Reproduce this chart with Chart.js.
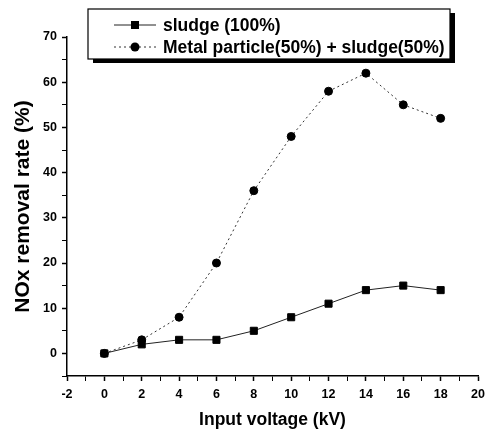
<!DOCTYPE html>
<html lang="en">
<head>
    <meta charset="UTF-8">
    <title>NOx removal rate</title>
    <script src="https://cdn.jsdelivr.net/npm/chart.js"></script>
    <style>
        html, body { margin: 0; padding: 0; background: #fff; }
        #wrap { width: 497px; height: 433px; position: relative; }
    </style>
</head>
<body>
<div id="wrap"><canvas id="chart" width="497" height="433"></canvas></div>

<script>
    const voltage = [0, 2, 4, 6, 8, 10, 12, 14, 16, 18];
    const sludge = [0, 2, 3, 3, 5, 8, 11, 14, 15, 14];
    const metalSludge = [0, 3, 8, 20, 36, 48, 58, 62, 55, 52];
    const seriesNames = ['sludge (100%)', 'Metal particle(50%) + sludge(50%)'];

    const FONT = '"Liberation Sans", Arial, sans-serif';

    const toPoints = (ys) => voltage.map((x, i) => ({ x: x, y: ys[i] }));

    // legend box drawn over the plot like the original figure
    const boxLegend = {
        id: 'boxLegend',
        afterDraw(chart) {
            const ctx = chart.ctx;
            const x0 = 88, y0 = 9, w = 362, h = 50;
            ctx.save();
            ctx.fillStyle = '#000';
            ctx.fillRect(x0 + 5, y0 + 4, w, h);
            ctx.fillStyle = '#fff';
            ctx.fillRect(x0, y0, w, h);
            ctx.strokeStyle = '#000';
            ctx.lineWidth = 1.2;
            ctx.strokeRect(x0, y0, w, h);

            const rows = [y0 + 16, y0 + 38];
            chart.data.datasets.forEach((ds, i) => {
                const y = rows[i];
                ctx.strokeStyle = ds.borderColor;
                ctx.lineWidth = 1;
                ctx.setLineDash(ds.borderDash || []);
                ctx.beginPath();
                ctx.moveTo(114, y);
                ctx.lineTo(156, y);
                ctx.stroke();
                ctx.setLineDash([]);
                ctx.fillStyle = '#000';
                if (ds.pointStyle === 'rect') {
                    ctx.fillRect(131, y - 4, 8, 8);
                } else {
                    ctx.beginPath();
                    ctx.arc(135, y, 4.5, 0, Math.PI * 2);
                    ctx.fill();
                }
                ctx.font = 'bold 17.5px ' + FONT;
                ctx.textBaseline = 'middle';
                ctx.fillText(ds.label, 163, y + 1);
            });
            ctx.restore();
        }
    };

    new Chart(document.getElementById('chart'), {
        type: 'scatter',
        data: {
            datasets: [{
                label: seriesNames[0],
                data: toPoints(sludge),
                showLine: true,
                borderColor: '#222',
                borderWidth: 1,
                pointStyle: 'rect',
                pointRadius: 5,
                pointBackgroundColor: '#000',
                pointBorderColor: '#000'
            }, {
                label: seriesNames[1],
                data: toPoints(metalSludge),
                showLine: true,
                borderColor: '#333',
                borderWidth: 1,
                borderDash: [2, 3],
                pointStyle: 'circle',
                pointRadius: 4,
                pointBackgroundColor: '#000',
                pointBorderColor: '#000'
            }]
        },
        options: {
            responsive: false,
            animation: false,
            layout: { padding: { top: 37, right: 19, left: 0, bottom: 0 } },
            plugins: {
                legend: { display: false },
                tooltip: { enabled: false }
            },
            scales: {
                x: {
                    type: 'linear',
                    min: -2,
                    max: 20,
                    afterFit: (s) => { s.height = 57; },
                    border: { display: true, color: '#000', width: 1.5 },
                    grid: {
                        drawOnChartArea: false,
                        drawTicks: true,
                        tickLength: 5,
                        tickColor: '#000',
                        tickWidth: (c) => (c.tick && c.tick.value % 2 === 0 ? 1.5 : 1)
                    },
                    ticks: {
                        stepSize: 1,
                        autoSkip: false,
                        maxRotation: 0,
                        color: '#000',
                        font: { family: FONT, size: 12.5, weight: 'bold' },
                        padding: 6,
                        callback: (v) => (v % 2 === 0 ? v : '')
                    },
                    title: {
                        display: true,
                        text: 'Input voltage (kV)',
                        color: '#000',
                        font: { family: FONT, size: 17.5, weight: 'bold' },
                        padding: { top: 0, bottom: 2 }
                    }
                },
                y: {
                    type: 'linear',
                    min: -5,
                    max: 70,
                    afterFit: (s) => { s.width = 67; },
                    border: { display: true, color: '#000', width: 1.5 },
                    grid: {
                        drawOnChartArea: false,
                        drawTicks: true,
                        tickLength: 5,
                        tickColor: '#000',
                        tickWidth: (c) => (c.tick && c.tick.value % 10 === 0 ? 1.5 : 1)
                    },
                    ticks: {
                        stepSize: 5,
                        autoSkip: false,
                        color: '#000',
                        font: { family: FONT, size: 12.5, weight: 'bold' },
                        padding: 5,
                        callback: (v) => (v % 10 === 0 ? v : '')
                    },
                    title: {
                        display: true,
                        text: 'NOx removal rate (%)',
                        color: '#000',
                        font: { family: FONT, size: 21, weight: 'bold' },
                        padding: { top: 11, bottom: 0 }
                    }
                }
            }
        },
        plugins: [boxLegend]
    });
</script>
</body>
</html>
